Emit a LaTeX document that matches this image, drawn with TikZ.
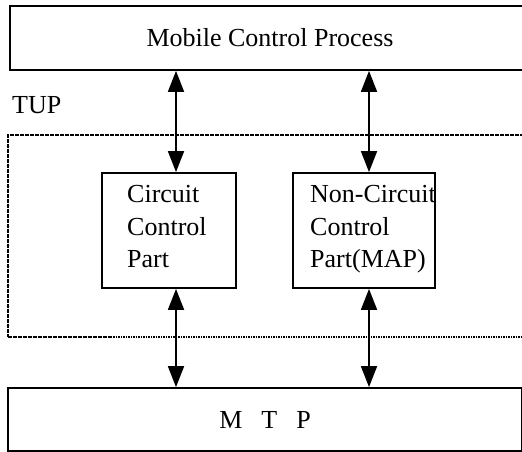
\documentclass[tikz,border=0pt]{standalone}
\usepackage{fontspec}
\setmainfont{Liberation Serif}
\usetikzlibrary{arrows.meta}
\begin{document}
\begin{tikzpicture}[x=1bp,y=-1bp,
  font=\fontsize{26bp}{32.5bp}\selectfont,
  solidbox/.style={draw, rectangle, line width=1.8bp, inner sep=0pt},
  dotbox/.style={draw, rectangle, line width=1.3bp, dash pattern=on 1.6bp off 0.9bp, inner sep=0pt},
  tip/.tip={Triangle[length=21bp,width=16bp]},
  link/.style={line width=1.8bp, tip-tip},
  boxtext/.style={inner sep=0pt, align=left, anchor=north west}]
  \useasboundingbox (0,0) rectangle (522,452);
  \clip (0,0) rectangle (522,452);

  % outer layers
  \node[solidbox, minimum width=520bp, minimum height=64bp] (mcp) at (270,38) {Mobile Control Process};
  \node[dotbox, minimum width=522bp, minimum height=202bp] (tup) at (269,236) {};
  \node[solidbox, minimum width=514bp, minimum height=63bp] (mtp) at (265,419.5) {M\hspace{19bp}T\hspace{19bp}P};

  % TUP label
  \node[inner sep=0pt, anchor=base west] (tuplabel) at (12,114) {TUP};

  % parts inside TUP
  \node[solidbox, minimum width=134bp, minimum height=115bp] (ccp) at (169,230.5) {};
  \node[solidbox, minimum width=142bp, minimum height=115bp] (ncp) at (364,230.5) {};
  \node[boxtext] (ccptext) at (127,185.5) {Circuit\\Control\\Part};
  \node[boxtext] (ncptext) at (310,185.5) {Non-Circuit\\Control\\Part(MAP)};

  % x positions of the two signal paths
  \coordinate (lane1) at (176,0);
  \coordinate (lane2) at (369,0);

  \draw[link] (mcp.south -| lane1) -- (ccp.north -| lane1);
  \draw[link] (mcp.south -| lane2) -- (ncp.north -| lane2);
  \draw[link] (ccp.south -| lane1) -- (mtp.north -| lane1);
  \draw[link] (ncp.south -| lane2) -- (mtp.north -| lane2);
\end{tikzpicture}
\end{document}
